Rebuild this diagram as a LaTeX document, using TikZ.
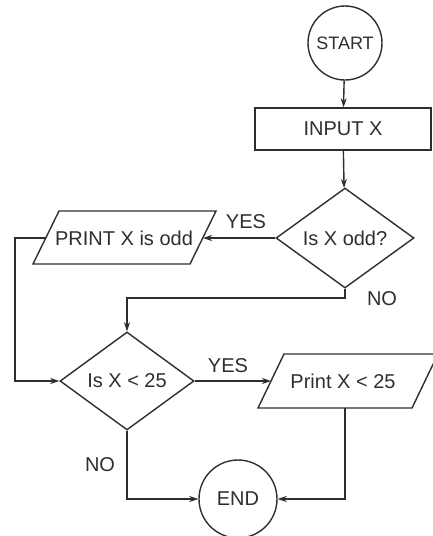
\documentclass[tikz,border=0pt]{standalone}
\usepackage{fontspec}
\setmainfont{Liberation Sans}
\usetikzlibrary{shapes.geometric,arrows.meta}
\definecolor{ink}{HTML}{2E2E2E}
\tikzset{
  lbl/.style={text=ink, font=\fontsize{20}{24}\selectfont, inner sep=0pt},
  term/.style={circle, draw=ink, line width=1.4pt, inner sep=0pt, text=ink},
  procbox/.style={rectangle, draw=ink, line width=1.4pt, minimum width=176pt, minimum height=42pt, inner sep=0pt, text=ink, font=\fontsize{20}{24}\selectfont},
  decide/.style={diamond, draw=ink, line width=1.4pt, inner sep=0pt, text=ink, font=\fontsize{20}{24}\selectfont},
  io/.style={line width=1.4pt, draw=ink, line join=miter},
  flow/.style={line width=1.4pt, draw=ink, -{Stealth[length=9pt,width=6pt]}},
}
\begin{document}
\begin{tikzpicture}[x=1pt,y=-1pt]
\useasboundingbox (0,0) rectangle (432,536);
% nodes
\node[term, minimum size=74pt, font=\fontsize{18}{22}\selectfont] (start) at (345,43) {START};
\node[procbox] (input) at (343,129) {INPUT X};
\node[decide, minimum width=138pt, minimum height=100pt] (odd) at (345,238) {Is X odd?};
\node[lbl] (p1) at (124,238) {PRINT X is odd};
\draw[io] (33,264) -- (190,264) -- (216,211) -- (59,211) -- cycle;
\coordinate (p1e) at (203,238);
\coordinate (p1w) at (46,238);
\node[decide, minimum width=134pt, minimum height=98pt] (lt) at (127,381) {Is X < 25};
\node[lbl] (p2) at (343,381) {Print X < 25};
\draw[io] (258,408) -- (412,408) -- (438,354) -- (284,354) -- cycle;
\coordinate (p2w) at (271,381);
\coordinate (p2s) at (345,408);
\node[term, minimum size=78pt, font=\fontsize{20}{24}\selectfont] (end) at (238,499) {END};
% bend points
\coordinate (b1) at (15,238);
\coordinate (b2) at (15,381);
\coordinate (b3) at (345,298);
\coordinate (b4) at (127,298);
\coordinate (b5) at (345,499);
\coordinate (b6) at (127,499);
% labels
\node[lbl] (yes1) at (246,222) {YES};
\node[lbl] (no1) at (382,299) {NO};
\node[lbl] (yes2) at (228,366) {YES};
\node[lbl] (no2) at (100,465) {NO};
% connectors
\draw[flow] (start) -- (input);
\draw[flow] (input) -- (odd);
\draw[flow] (odd.west) -- (p1e);
\draw[flow] (p1w) -- (b1) -- (b2) -- (lt.west);
\draw[flow] (odd.south) -- (b3) -- (b4) -- (lt.north);
\draw[flow] (lt.east) -- (p2w);
\draw[flow] (p2s) -- (b5) -- (end.east);
\draw[flow] (lt.south) -- (b6) -- (end.west);
\end{tikzpicture}
\end{document}
